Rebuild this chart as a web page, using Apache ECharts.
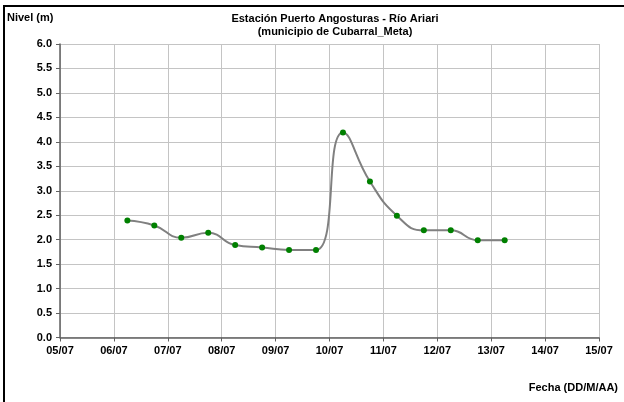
<!DOCTYPE html>
<html>
<head>
<meta charset="utf-8">
<script src="https://cdn.jsdelivr.net/npm/echarts@6/dist/echarts.min.js"></script>
<style>
  html, body { margin: 0; padding: 0; background: #fff; }
  #chart { width: 624px; height: 402px; }
</style>
</head>
<body>
<div id="chart"></div>
<script>
// lecturas cada 12 horas (06:00 y 18:00)
const fechas = [
  '2011-07-06T06:00Z', '2011-07-06T18:00Z', '2011-07-07T06:00Z', '2011-07-07T18:00Z',
  '2011-07-08T06:00Z', '2011-07-08T18:00Z', '2011-07-09T06:00Z', '2011-07-09T18:00Z',
  '2011-07-10T06:00Z', '2011-07-10T18:00Z', '2011-07-11T06:00Z', '2011-07-11T18:00Z',
  '2011-07-12T06:00Z', '2011-07-12T18:00Z', '2011-07-13T06:00Z'
];
const nivel = [2.39, 2.29, 2.04, 2.14, 1.89, 1.84, 1.79, 1.79, 4.19, 3.19, 2.49, 2.19, 2.19, 1.99, 1.99];
const fechaMin = '2011-07-05T00:00Z';
const fechaMax = '2011-07-15T00:00Z';
const DIA = 86400000;

const pad = n => (n < 10 ? '0' : '') + n;
const serie = fechas.map((f, i) => [Date.parse(f), nivel[i]]);

let myChart = echarts.init(document.getElementById('chart'));
let font = 'Liberation Sans, Arial, sans-serif';
let option = {
  animation: false,
  textStyle: { fontFamily: font },
  title: {
    text: 'Estación Puerto Angosturas - Río Ariari\n(municipio de Cubarral_Meta)',
    left: 330,
    top: 7,
    textAlign: 'center',
    textStyle: { fontSize: 11, fontWeight: 'bold', color: '#000', lineHeight: 13, fontFamily: font }
  },
  grid: { left: 60, right: 25, top: 44, bottom: 64.5 },
  graphic: [
    {
      type: 'rect',
      shape: { x: 4, y: 6, width: 700, height: 500 },
      style: { fill: null, stroke: '#000', lineWidth: 2 }
    },
    {
      type: 'text', left: 7, top: 12,
      style: { text: 'Nivel (m)', font: 'bold 11px ' + font, fill: '#000' }
    },
    {
      type: 'text', right: 6, top: 382,
      style: { text: 'Fecha (DD/M/AA)', font: 'bold 11px ' + font, fill: '#000' }
    }
  ],
  xAxis: {
    type: 'value',
    min: Date.parse(fechaMin),
    max: Date.parse(fechaMax),
    interval: DIA,
    axisLine: { lineStyle: { color: '#606060', width: 1.5 } },
    axisTick: { show: true, length: 4, lineStyle: { color: '#606060' } },
    axisLabel: {
      margin: 8,
      color: '#000',
      fontSize: 11,
      fontWeight: 'bold',
      fontFamily: font,
      formatter: v => { let d = new Date(v); return pad(d.getUTCDate()) + '/' + pad(d.getUTCMonth() + 1); }
    },
    splitLine: { show: true, lineStyle: { color: '#c4c4c4', width: 1 } }
  },
  yAxis: {
    type: 'value',
    min: 0,
    max: 6,
    interval: 0.5,
    axisLine: { show: true, lineStyle: { color: '#606060', width: 1.5 } },
    axisTick: { show: true, length: 4, lineStyle: { color: '#606060' } },
    axisLabel: {
      margin: 8,
      color: '#000',
      fontSize: 11,
      fontWeight: 'bold',
      fontFamily: font,
      formatter: v => v.toFixed(1)
    },
    splitLine: { show: true, lineStyle: { color: '#c4c4c4', width: 1 } }
  },
  series: [
    {
      name: 'Nivel',
      type: 'line',
      data: serie,
      smooth: 0.5,
      symbol: 'circle',
      symbolSize: 6,
      lineStyle: { color: '#808080', width: 2 },
      itemStyle: { color: '#008000' }
    }
  ]
};

option && myChart.setOption(option);
</script>
</body>
</html>
